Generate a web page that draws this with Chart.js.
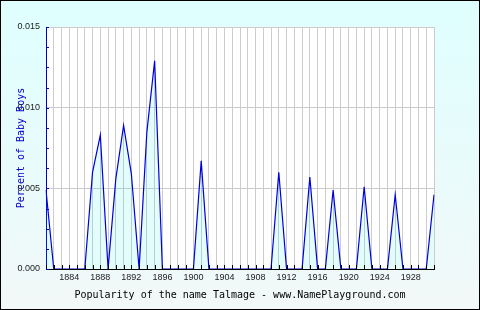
<!DOCTYPE html>
<html lang="en">
<head>
    <meta charset="UTF-8">
    <title>Popularity of the name Talmage</title>
    <style>
        body {
            margin: 0;
            padding: 0;
            background: #fff;
        }

        #chart {
            display: block;
        }
    </style>
</head>
<body>
    <canvas id="chart" width="480" height="310"></canvas>

    <script src="https://cdn.jsdelivr.net/npm/chart.js"></script>
    <script>
        // years 1881 - 1931, one point per year
        const years = [];
        for (let y = 1881; y <= 1931; y++) years.push(String(y));

        const percentBoys = [
            0.0049, 0, 0, 0, 0, 0, 0.0060, 0.0083, 0, 0.0056,
            0.0089, 0.0059, 0, 0.0085, 0.0129, 0, 0, 0, 0, 0,
            0.0067, 0, 0, 0, 0, 0, 0, 0, 0, 0,
            0.0060, 0, 0, 0, 0.0057, 0, 0, 0.0049, 0, 0,
            0, 0.0051, 0, 0, 0, 0.0046, 0, 0, 0, 0,
            0.0046
        ];

        const yTicks = [0, 0.005, 0.010, 0.015];
        const minorStep = 0.00125;

        const chartTitle = 'Popularity of the name Talmage - www.NamePlayground.com';
        const yTitle = 'Percent of Baby Boys';

        // page background, frame and white plot area
        const backdrop = {
            id: 'backdrop',
            beforeDraw(chart) {
                const { ctx, chartArea: a, width, height } = chart;
                ctx.save();
                const g = ctx.createLinearGradient(0, 0, 0, height);
                g.addColorStop(0, '#dfffff');
                g.addColorStop(1, '#f2f8f8');
                ctx.fillStyle = g;
                ctx.fillRect(0, 0, width, height);
                ctx.fillStyle = '#fff';
                ctx.fillRect(a.left, a.top, a.right - a.left, a.bottom - a.top);
                ctx.strokeStyle = '#000';
                ctx.lineWidth = 1;
                ctx.strokeRect(0.5, 0.5, width - 1, height - 1);
                ctx.restore();
            }
        };

        // little inward ticks: every year on x, every 0.00125 on y
        const innerTicks = {
            id: 'innerTicks',
            afterDatasetsDraw(chart) {
                const { ctx, chartArea: a, scales } = chart;
                ctx.save();
                ctx.lineWidth = 1;
                ctx.strokeStyle = '#000';
                ctx.beginPath();
                years.forEach((yr, i) => {
                    const x = Math.round(scales.x.getPixelForValue(i)) + 0.5;
                    ctx.moveTo(x, a.bottom);
                    ctx.lineTo(x, a.bottom - 4);
                });
                ctx.stroke();
                ctx.strokeStyle = '#0000cc';
                ctx.beginPath();
                for (let v = 0; v <= 0.015 + 1e-9; v += minorStep) {
                    const y = Math.round(scales.y.getPixelForValue(v)) + 0.5;
                    ctx.moveTo(a.left, y);
                    ctx.lineTo(a.left + 3, y);
                }
                ctx.stroke();
                ctx.restore();
            }
        };

        new Chart(document.getElementById('chart'), {
            type: 'line',
            data: {
                labels: years,
                datasets: [{
                    data: percentBoys,
                    borderColor: '#0000dd',
                    borderWidth: 1.2,
                    backgroundColor: 'rgba(0, 235, 235, 0.11)',
                    fill: 'origin',
                    pointRadius: 0,
                    tension: 0
                }]
            },
            options: {
                responsive: false,
                animation: false,
                layout: { padding: { top: 27, right: 46, left: 0, bottom: 0 } },
                plugins: {
                    legend: { display: false },
                    tooltip: { enabled: false }
                },
                scales: {
                    x: {
                        offset: false,
                        afterFit(scale) { scale.height = 41; },
                        grid: { color: '#cccccc', drawTicks: false },
                        border: { color: '#000', width: 1 },
                        ticks: {
                            autoSkip: false,
                            maxRotation: 0,
                            padding: 3,
                            color: '#222',
                            font: { family: 'Liberation Sans', size: 9 },
                            callback(value) {
                                const yr = Number(this.getLabelForValue(value));
                                return (yr >= 1884 && yr <= 1928 && yr % 4 === 0) ? String(yr) : '';
                            }
                        },
                        title: {
                            display: true,
                            text: chartTitle,
                            color: '#000',
                            font: { family: 'DejaVu Sans Mono', size: 10 },
                            padding: { top: 0, bottom: 9 }
                        }
                    },
                    y: {
                        min: 0,
                        max: 0.015,
                        afterFit(scale) { scale.width = 46; },
                        afterBuildTicks(scale) {
                            scale.ticks = yTicks.map(v => ({ value: v }));
                        },
                        grid: { color: '#cccccc', drawTicks: false },
                        border: { color: '#0000cc', width: 1 },
                        ticks: {
                            padding: 6,
                            color: '#222',
                            font: { family: 'Liberation Sans', size: 9 },
                            callback: v => v.toFixed(3)
                        },
                        title: {
                            display: true,
                            text: yTitle,
                            color: '#0000cc',
                            font: { family: 'DejaVu Sans Mono', size: 10 },
                            padding: { top: 15, bottom: 0 }
                        }
                    }
                }
            },
            plugins: [backdrop, innerTicks]
        });
    </script>
</body>
</html>
